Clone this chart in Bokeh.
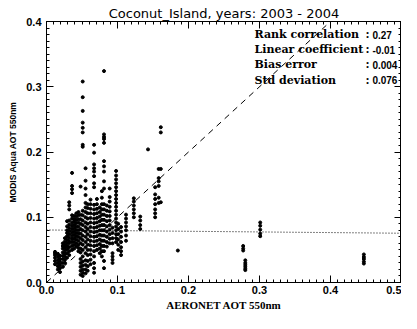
from bokeh.plotting import figure
from bokeh.models import SingleIntervalTicker, LinearAxis, Range1d, NumeralTickFormatter, ColumnDataSource
from bokeh.core.properties import value
from bokeh.embed import file_html
from bokeh.resources import INLINE

# ---- data ----
title_text = "Coconut_Island, years: 2003 - 2004"
x_label = "AERONET AOT 550nm"
y_label = "MODIS Aqua AOT 550nm"

stat_names = ["Rank correlation", "Linear coefficient", "Bias error", "Std deviation"]
stat_values = ["0.27", "-0.01", "0.004", "0.076"]

# AERONET AOT of each match-up day
col_x = [0.012, 0.016, 0.019, 0.023, 0.026, 0.029, 0.032, 0.036, 0.039, 0.042,
         0.045, 0.048, 0.051, 0.055, 0.058, 0.062, 0.067, 0.071, 0.075, 0.078,
         0.081, 0.085, 0.089, 0.093, 0.098, 0.101, 0.105, 0.112, 0.123, 0.132,
         0.143, 0.153, 0.158, 0.161, 0.185, 0.277, 0.280, 0.301, 0.447]
# MODIS AOT values for that day
col_y = [
    [0.028, 0.033, 0.038, 0.042, 0.045, 0.047],
    [0.020, 0.025, 0.030, 0.035, 0.040, 0.044],
    [0.016, 0.022, 0.027, 0.032, 0.036, 0.041],
    [0.024, 0.030, 0.036, 0.041, 0.046, 0.052, 0.056, 0.060],
    [0.030, 0.035, 0.040, 0.044, 0.049, 0.054, 0.058, 0.063, 0.068],
    [0.038, 0.045, 0.051, 0.056, 0.061, 0.066, 0.071, 0.076, 0.080, 0.086, 0.094],
    [0.042, 0.048, 0.054, 0.060, 0.064, 0.069, 0.074, 0.079, 0.084, 0.089, 0.095, 0.112, 0.118, 0.123],
    [0.050, 0.056, 0.062, 0.067, 0.072, 0.077, 0.082, 0.087, 0.092, 0.098, 0.103, 0.137, 0.143, 0.148, 0.168],
    [0.052, 0.058, 0.063, 0.068, 0.073, 0.078, 0.083, 0.088, 0.093, 0.097, 0.102],
    [0.055, 0.060, 0.066, 0.071, 0.076, 0.081, 0.086, 0.091, 0.096, 0.101, 0.106],
    [0.048, 0.053, 0.058, 0.064, 0.070, 0.075, 0.080, 0.086, 0.092, 0.097, 0.103, 0.108],
    [0.012, 0.018, 0.024, 0.030, 0.036, 0.046, 0.052, 0.060, 0.068, 0.075, 0.082, 0.090, 0.097, 0.104, 0.147],
    [0.010, 0.015, 0.020, 0.026, 0.032, 0.040, 0.050, 0.058, 0.065, 0.072, 0.080, 0.088, 0.095, 0.103, 0.110,
     0.208, 0.211, 0.230, 0.237, 0.245, 0.263, 0.284, 0.308],
    [0.014, 0.020, 0.027, 0.034, 0.045, 0.054, 0.062, 0.070, 0.078, 0.085, 0.092, 0.100, 0.108, 0.115, 0.122,
     0.134, 0.144, 0.156, 0.175],
    [0.018, 0.025, 0.033, 0.042, 0.050, 0.058, 0.066, 0.074, 0.082, 0.090, 0.098, 0.106, 0.114, 0.120],
    [0.028, 0.035, 0.043, 0.050, 0.057, 0.064, 0.071, 0.078, 0.085, 0.092, 0.099, 0.106, 0.113, 0.120, 0.127],
    [0.015, 0.022, 0.030, 0.040, 0.048, 0.056, 0.063, 0.070, 0.077, 0.084, 0.091, 0.098, 0.105, 0.112, 0.119,
     0.146, 0.152, 0.163, 0.170, 0.175, 0.181, 0.199, 0.211],
    [0.050, 0.057, 0.064, 0.071, 0.078, 0.085, 0.092, 0.099, 0.106, 0.113, 0.120, 0.128],
    [0.045, 0.052, 0.059, 0.066, 0.073, 0.080, 0.087, 0.094, 0.101, 0.108, 0.115],
    [0.040, 0.048, 0.056, 0.064, 0.072, 0.080, 0.088, 0.096, 0.104, 0.112, 0.120, 0.130, 0.140],
    [0.022, 0.033, 0.048, 0.056, 0.064, 0.072, 0.080, 0.088, 0.096, 0.104, 0.112, 0.120, 0.144, 0.155,
     0.170, 0.178, 0.186, 0.214, 0.220, 0.223, 0.227, 0.324],
    [0.055, 0.062, 0.070, 0.078, 0.086, 0.094, 0.102, 0.110, 0.118],
    [0.060, 0.067, 0.074, 0.081, 0.088, 0.095, 0.102, 0.109, 0.116, 0.124, 0.131, 0.144],
    [0.030, 0.035, 0.040, 0.045, 0.060, 0.068, 0.076, 0.084],
    [0.062, 0.068, 0.074, 0.080, 0.086, 0.092, 0.098, 0.104, 0.110, 0.116, 0.122, 0.128, 0.134, 0.140,
     0.146, 0.152, 0.158, 0.164, 0.171],
    [0.050, 0.058, 0.066, 0.074, 0.082, 0.090],
    [0.042, 0.048, 0.054, 0.062, 0.070, 0.078, 0.085],
    [0.064, 0.072, 0.080, 0.086, 0.092, 0.098, 0.104],
    [0.100, 0.106, 0.112, 0.118, 0.124, 0.129],
    [0.082, 0.088, 0.095, 0.101],
    [0.204],
    [0.100, 0.106, 0.112, 0.120, 0.128, 0.135, 0.146],
    [0.122, 0.130, 0.148, 0.155, 0.160, 0.174],
    [0.123, 0.174, 0.230, 0.238],
    [0.049],
    [0.049, 0.052, 0.056],
    [0.019, 0.021, 0.024, 0.027, 0.030, 0.034],
    [0.071, 0.075, 0.081, 0.087, 0.092],
    [0.029, 0.032, 0.036, 0.039, 0.043],
]

# reference lines
one_to_one = [0.0, 0.5]
fit_intercept = 0.0805
fit_slope = -0.01

aeronet = [x for x, ys in zip(col_x, col_y) for _ in ys]
modis = [y for ys in col_y for y in ys]

# ---- figure ----
p = figure(width=401, height=313, x_range=Range1d(0, 0.5), y_range=Range1d(0, 0.4),
           output_backend="svg", toolbar_location=None,
           min_border_left=46, min_border_right=0, min_border_top=21, min_border_bottom=30,
           background_fill_color="white", border_fill_color="white")

p.title.text = title_text
p.title.align = "center"
p.title.text_font = "DejaVu Sans"
p.title.text_font_style = "normal"
p.title.text_font_size = "13px"
p.title.text_color = "black"
p.title.standoff = 1

p.grid.visible = False
p.outline_line_color = "black"
p.outline_line_width = 1

serif = "DejaVu Serif"
sans = "Liberation Sans"

def style_axis(ax, show_labels):
    ax.ticker = SingleIntervalTicker(interval=0.1, num_minor_ticks=10)
    ax.axis_line_color = "black"
    ax.major_tick_line_color = "black"
    ax.minor_tick_line_color = "black"
    ax.major_tick_in = 7
    ax.major_tick_out = 0
    ax.minor_tick_in = 3
    ax.minor_tick_out = 0
    if show_labels:
        ax.formatter = NumeralTickFormatter(format="0.0")
        ax.major_label_text_font = sans
        ax.major_label_text_font_style = "bold"
        ax.major_label_text_font_size = "11px"
        ax.major_label_text_color = "black"
        ax.axis_label_text_color = "black"
        ax.axis_label_text_font_style = "bold"
    else:
        ax.major_label_text_font_size = "0px"
        ax.major_label_text_color = None
        ax.major_label_standoff = 0

style_axis(p.xaxis[0], True)
style_axis(p.yaxis[0], True)
p.xaxis.axis_label = x_label
p.xaxis.axis_label_text_font = "Liberation Serif"
p.xaxis.axis_label_text_font_size = "11px"
p.xaxis.major_label_standoff = 3
p.xaxis.axis_label_standoff = 2
p.yaxis.axis_label = y_label
p.yaxis.axis_label_text_font = sans
p.yaxis.axis_label_text_font_size = "8.5px"
p.yaxis.major_label_standoff = 5
p.yaxis.axis_label_standoff = 5

ax_r = LinearAxis()
style_axis(ax_r, False)
p.add_layout(ax_r, "right")
ax_t = LinearAxis()
style_axis(ax_t, False)
p.add_layout(ax_t, "above")

# 1:1 dashed line
p.line(one_to_one, one_to_one, line_color="black", line_dash="6 5", line_width=1)
# linear fit, dotted
fit_x = [0.0, 0.5]
fit_y = [fit_intercept + fit_slope * v for v in fit_x]
p.line(fit_x, fit_y, line_color="black", line_dash="1 2", line_width=1)

p.scatter(aeronet, modis, size=3.0, color="black", marker="circle")

# statistics text
row_y = [0.380, 0.357, 0.334, 0.310]
src = ColumnDataSource(dict(nx=[0.293] * 4, cx=[0.452] * 4, vx=[0.459] * 4, y=row_y,
                            name=stat_names, colon=[":"] * 4, val=stat_values))
p.text(x="nx", y="y", text="name", source=src, text_font=value(serif), text_font_style="bold",
       text_font_size="11px", text_align="left", text_baseline="middle", text_color="black")
p.text(x="cx", y="y", text="colon", source=src, text_font=value(serif), text_font_style="bold",
       text_font_size="11px", text_align="center", text_baseline="middle", text_color="black")
p.text(x="vx", y="y", text="val", source=src, text_font=value(sans), text_font_style="bold",
       text_font_size="10px", text_align="left", text_baseline="middle", text_color="black")

open("out.html", "w").write(file_html(p, INLINE))
